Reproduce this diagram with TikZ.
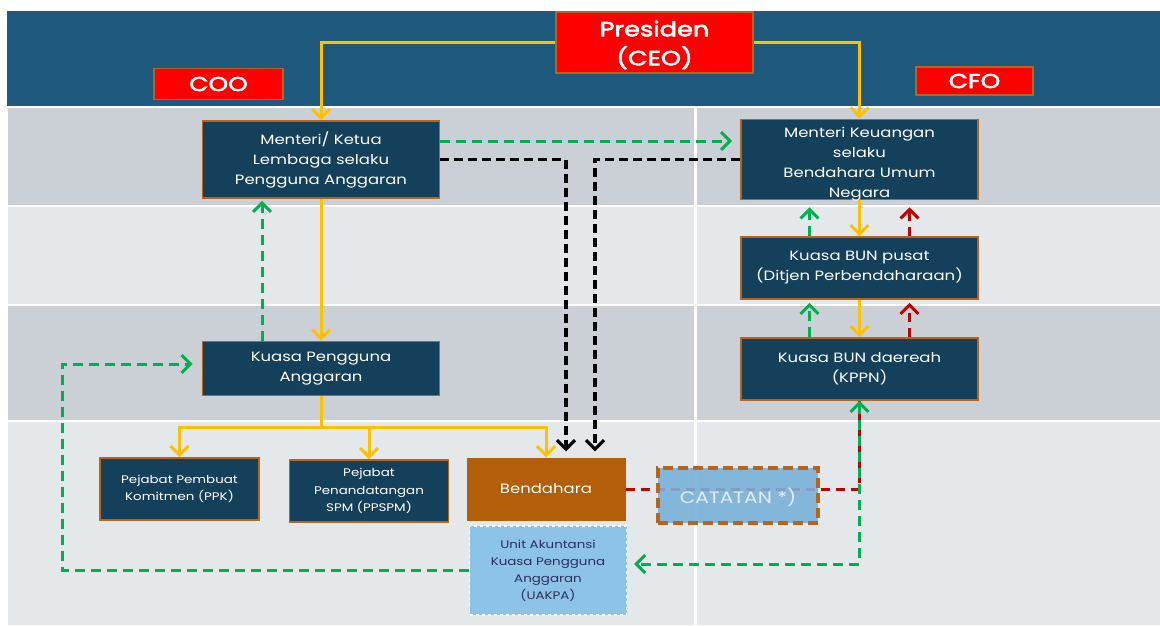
\documentclass[tikz,border=0pt]{standalone}
\usepackage{fontspec}
\setmainfont{Poppins}[FakeStretch=1.22]
\newfontfamily\headfont{Poppins}[FakeStretch=1.25, FakeBold=3]
\usetikzlibrary{arrows.meta}
\definecolor{bandDark}{HTML}{1F5A7E}
\definecolor{bandGray}{HTML}{CBD0D7}
\definecolor{bandLight}{HTML}{E4E8EB}
\definecolor{navy}{HTML}{15405C}
\definecolor{bord}{HTML}{B8641C}
\definecolor{presRed}{HTML}{FF0000}
\definecolor{yel}{HTML}{FFC000}
\definecolor{grn}{HTML}{00B050}
\definecolor{rd}{HTML}{C00000}
\definecolor{bendFill}{HTML}{B35E09}
\definecolor{uakFill}{HTML}{8DC3E6}
\definecolor{catFill}{HTML}{7AB1D9}
\definecolor{catText}{HTML}{E1EDF6}
\definecolor{uakText}{HTML}{2C2F5E}
\begin{document}
\begin{tikzpicture}[x=1pt,y=-1pt,
 box/.style={draw=bord, line width=1.6pt, fill=navy, text=white, align=center, inner sep=0pt},
 redbox/.style={draw=bord, line width=1.2pt, fill=presRed, text=white, align=center, inner sep=0pt},
 tip/.style={-{Straight Barb[length=9pt,width=18pt]}},
 yline/.style={draw=yel, line width=3pt},
 yarrow/.style={yline, tip},
 gline/.style={draw=grn, line width=3pt, dash pattern=on 10pt off 6pt},
 garrow/.style={gline, tip},
 karrow/.style={draw=black, line width=3.2pt, dash pattern=on 9pt off 5pt, tip},
 rline/.style={draw=rd, line width=3pt, dash pattern=on 9pt off 6pt},
 rarrow/.style={rline, tip},
 fbox/.style={font=\fontsize{13.5}{20}\selectfont},
 sbox/.style={font=\fontsize{11}{17.5}\selectfont},
]
\useasboundingbox (0,0) rectangle (1160,625);
\fill[white] (0,0) rectangle (1160,625);
\fill[bandDark] (7,11) rectangle (1160,106);
\fill[bandGray] (8,108) rectangle (1160,205);
\fill[bandLight] (8,207) rectangle (1160,304);
\fill[bandGray] (8,306) rectangle (1160,420);
\fill[bandLight] (8,422) rectangle (1160,625);
\fill[white] (694,108) rectangle (697,625);

\node[redbox, minimum width=197pt, minimum height=61pt, font=\headfont\fontsize{20.5}{29}\selectfont] (pres) at (654.5,42.5) {\raisebox{-2.5pt}[\height][\depth]{\begin{tabular}{@{}c@{}}Presiden\\(CEO)\end{tabular}}};
\node[redbox, minimum width=129pt, minimum height=31pt, font=\headfont\fontsize{20}{24}\selectfont] (coo) at (218.5,84) {COO};
\node[redbox, minimum width=117pt, minimum height=28pt, font=\headfont\fontsize{20}{24}\selectfont] (cfo) at (974.5,81) {CFO};

\node[box, fbox, minimum width=237pt, minimum height=77pt] (mkl) at (321,159.5) {Menteri/ Ketua\\Lembaga selaku\\Pengguna Anggaran};
\node[box, fbox, minimum width=237pt, minimum height=77pt] (mk) at (859.5,159.5) {\raisebox{-4pt}[\height][\depth]{\begin{tabular}{@{}c@{}}Menteri Keuangan\\selaku\\Bendahara Umum\\Negara\end{tabular}}};
\node[box, fbox, minimum width=237pt, minimum height=62pt] (bunp) at (859.5,268) {Kuasa BUN pusat\\(Ditjen Perbendaharaan)};
\node[box, fbox, minimum width=237pt, minimum height=62pt] (bund) at (859.5,369) {Kuasa BUN daereah\\(KPPN)};
\node[box, fbox, minimum width=237pt, minimum height=54pt] (kpa) at (321,368.5) {Kuasa Pengguna\\Anggaran};
\node[box, sbox, minimum width=159pt, minimum height=62pt] (ppk) at (179.5,489) {Pejabat Pembuat\\Komitmen (PPK)};
\node[box, sbox, minimum width=159pt, minimum height=62pt] (ppspm) at (369,491) {Pejabat\\Penandatangan\\SPM (PPSPM)};
\node[fill=bendFill, text=white, fbox, inner sep=0pt, minimum width=159pt, minimum height=63pt] (bend) at (546,489) {Bendahara};
\node[fill=uakFill, draw=white, dashed, line width=1.2pt, text=uakText, align=center, inner sep=0pt, font=\fontsize{11}{17}\selectfont, minimum width=157pt, minimum height=89pt] (uakpa) at (548,570.5) {Unit Akuntansi\\Kuasa Pengguna\\Anggaran\\(UAKPA)};

% yellow command lines
\draw[yarrow] (pres.west) -| (mkl.north);
\draw[yarrow] (pres.east) -| (mk.north);
\draw[yarrow] (mkl.south) -- (kpa.north);
\coordinate (j) at (321,427);
\draw[yline] (kpa.south) -- (j);
\draw[yarrow] (j) -| (ppk.north);
\draw[yarrow] (j) -| (ppspm.north);
\draw[yarrow] (j) -| (bend.north);
\draw[yarrow] (mk.south) -- (bunp.north);
\draw[yarrow] (bunp.south) -- (bund.north);

% black dashed
\draw[karrow, shorten >=6pt] (mkl.east) -| ([xshift=20pt]bend.north);
\draw[karrow, shorten >=6pt] (mk.west) -| ([xshift=49pt]bend.north);

% green dashed
\draw[garrow, shorten >=8pt] ([yshift=18.5pt]mkl.east) -- ([yshift=18.5pt]mk.west);
\draw[garrow, shorten >=2pt] ([xshift=-59pt]kpa.north) -- ([xshift=-59pt]kpa.north |- mkl.south);
\coordinate (lc) at (62,364);
\draw[garrow, shorten >=9pt] (uakpa.west) -| (lc) -- ([yshift=4.5pt]kpa.west);
\draw[garrow, shorten >=7pt] ([xshift=-50pt]bunp.north) -- ([xshift=-50pt]bunp.north |- mk.south);
\draw[garrow, shorten >=3pt] ([xshift=-50pt]bund.north) -- ([xshift=-50pt]bund.north |- bunp.south);

% red dashed
\draw[rarrow, shorten >=7pt] ([xshift=50pt]bunp.north) -- ([xshift=50pt]bunp.north |- mk.south);
\draw[rarrow, shorten >=3pt] ([xshift=50pt]bund.north) -- ([xshift=50pt]bund.north |- bunp.south);
\draw[rline] (bend.east) -| (bund.south);

\node[fill=catFill, fill opacity=0.9, text opacity=1, draw=bord, line width=3.5pt, dash pattern=on 10pt off 5pt, text=catText, inner sep=0pt, font=\fontsize{16.5}{20}\selectfont, minimum width=160pt, minimum height=55pt] (cat) at (738,495.5) {\raisebox{-2pt}[\height][\depth]{CATATAN *)}};

\draw[gline, {Straight Barb[length=9pt,width=18pt]}-{Straight Barb[length=9pt,width=18pt]}, shorten >=7pt] (bund.south) |- ([yshift=6.5pt]uakpa.east);
\end{tikzpicture}
\end{document}
